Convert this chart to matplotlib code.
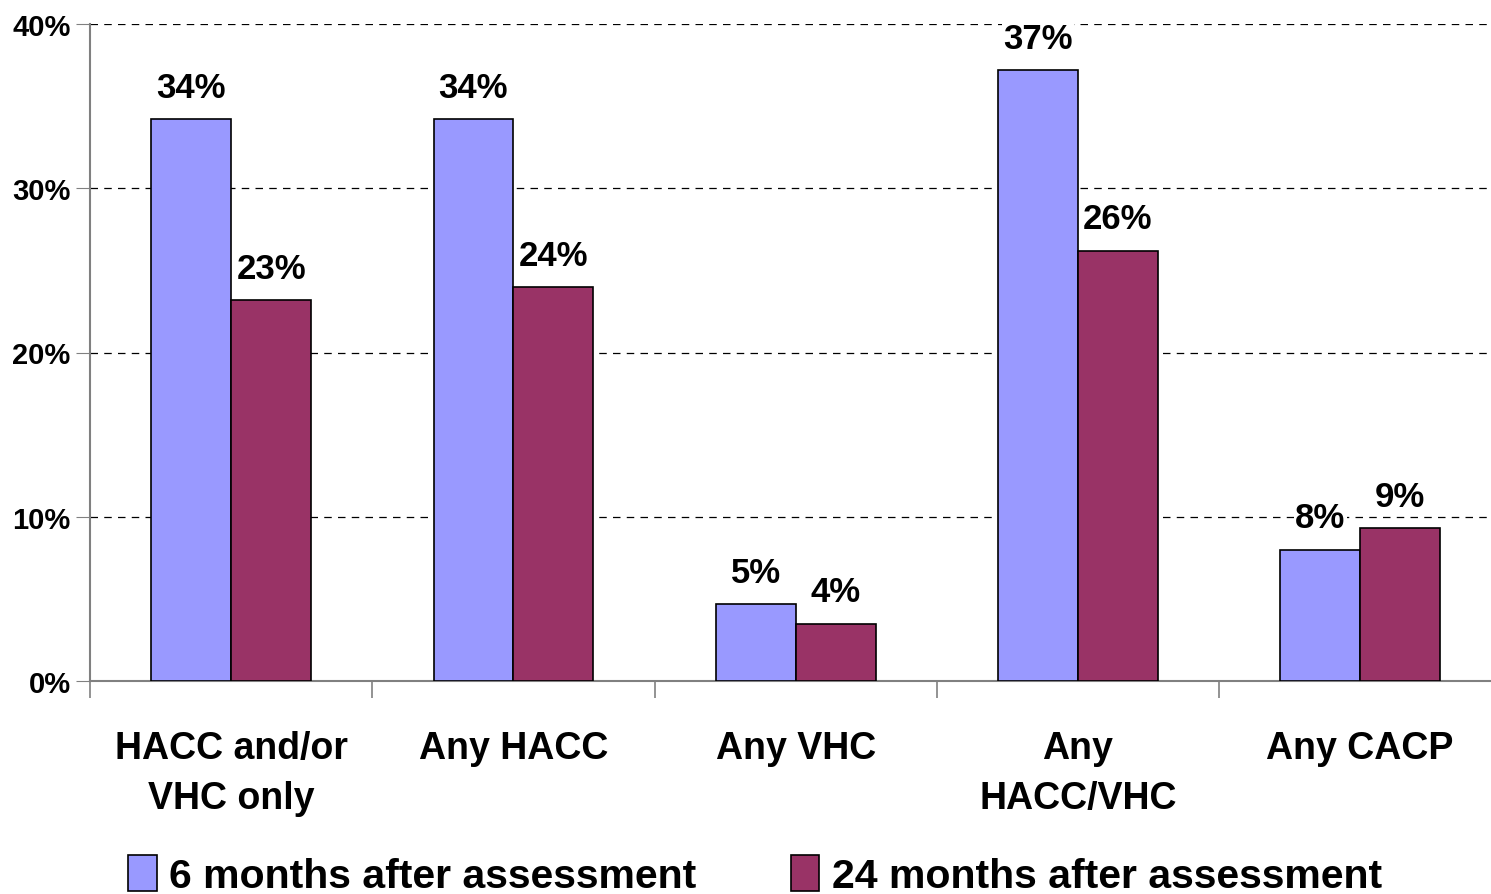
import matplotlib.pyplot as plt
import numpy as np
from matplotlib.patches import Patch

plt.rcParams['font.family'] = ['Liberation Sans', 'DejaVu Sans']
plt.rcParams['font.weight'] = 'bold'

categories = ['HACC and/or\nVHC only', 'Any HACC', 'Any VHC', 'Any\nHACC/VHC', 'Any CACP']
six_months = [34.2, 34.2, 4.7, 37.2, 8.0]
twentyfour_months = [23.2, 24.0, 3.5, 26.2, 9.3]
six_labels = ['34%', '34%', '5%', '37%', '8%']
twentyfour_labels = ['23%', '24%', '4%', '26%', '9%']
series_names = ['6 months after assessment', '24 months after assessment']
colors = ['#9999FF', '#993366']

fig = plt.figure(figsize=(14.91, 8.95), dpi=100)
ax = fig.add_axes([90/1491, 1 - 682/895, 1400/1491, 657/895])

x = np.arange(len(categories))
w = 0.283
b1 = ax.bar(x - w/2, six_months, w, color=colors[0], edgecolor='black', linewidth=1.2, zorder=3)
b2 = ax.bar(x + w/2, twentyfour_months, w, color=colors[1], edgecolor='black', linewidth=1.2, zorder=3)

for bars, labs in [(b1, six_labels), (b2, twentyfour_labels)]:
    for r, lab in zip(bars, labs):
        ax.annotate(lab, (r.get_x() + r.get_width()/2, r.get_height()),
                    xytext=(0, 11), textcoords='offset points',
                    ha='center', va='bottom', fontsize=25, fontweight='bold',
                    bbox=dict(facecolor='white', edgecolor='none', pad=1), zorder=4)

ax.set_ylim(0, 40)
ax.set_xlim(-0.5, 4.46)
ax.set_yticks([0, 10, 20, 30, 40])
ax.set_yticklabels(['0%', '10%', '20%', '30%', '40%'], fontsize=21, fontweight='bold')
ax.yaxis.grid(True, linestyle=(0, (6, 5)), color='black', linewidth=0.9, zorder=0)
ax.tick_params(axis='y', length=10, color='#808080', pad=4)

ax.set_xticks(x)
ax.set_xticklabels(categories, fontsize=27, fontweight='bold', linespacing=1.5)
ax.set_xticks([-0.5, 0.5, 1.5, 2.5, 3.5], minor=True)
ax.tick_params(axis='x', which='major', length=0, pad=35)
ax.tick_params(axis='x', which='minor', length=12, color='#808080', width=1.2)

for s in ['top', 'right']:
    ax.spines[s].set_visible(False)
for s in ['left', 'bottom']:
    ax.spines[s].set_color('#808080')
    ax.spines[s].set_linewidth(1.5)

handles = [Patch(facecolor=c, edgecolor='black', linewidth=1.2) for c in colors]
fig.legend(handles, series_names, loc='center', bbox_to_anchor=(755/1491, 1 - 876/895),
           ncol=2, frameon=False, prop={'weight': 'bold', 'size': 29.5},
           handlelength=0.7, handleheight=1.0, handletextpad=0.3, columnspacing=2.3)

fig.savefig('out.png', dpi=100)
